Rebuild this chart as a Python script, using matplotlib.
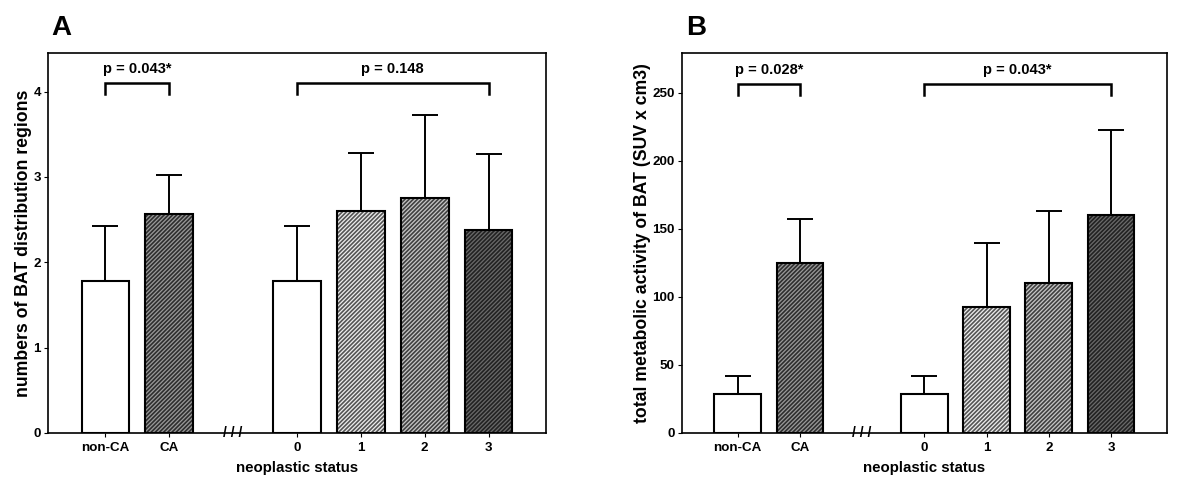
import matplotlib
matplotlib.use("Agg")
import matplotlib.pyplot as plt

plt.rcParams['font.family'] = ['Liberation Sans', 'DejaVu Sans']
plt.rcParams['font.weight'] = 'bold'
plt.rcParams['hatch.linewidth'] = 1.2

categories = ['non-CA', 'CA', '0', '1', '2', '3']
positions = [0, 1, 3, 4, 5, 6]
bar_colors = ['#ffffff', '#9a9a9a', '#ffffff', '#eeeeee', '#c6c6c6', '#6a6a6a']
hatch_colors = ['#000000', '#2e2e2e', '#000000', '#555555', '#404040', '#222222']
bar_hatch = ['', '////////', '', '////////', '////////', '////////']

a_mean = [1.78, 2.57, 1.78, 2.60, 2.75, 2.38]
a_err = [0.64, 0.45, 0.64, 0.68, 0.98, 0.89]
b_mean = [28.6, 125.0, 28.6, 92.4, 110.5, 160.0]
b_err = [13.4, 32.0, 13.4, 47.4, 52.7, 62.9]

a_ticks = [0, 1, 2, 3, 4]
b_ticks = [0, 50, 100, 150, 200, 250]

a_p = ['p = 0.043*', 'p = 0.148']
b_p = ['p = 0.028*', 'p = 0.043*']

fig = plt.figure(figsize=(12, 4.82), dpi=100)
axA = fig.add_axes([0.040, 0.1017, 0.415, 0.788])
axB = fig.add_axes([0.568, 0.1017, 0.4045, 0.788])


def panel(ax, means, errs, yticks, ylim, ylabel, ptexts, blo, bhi, ptxt, letter, letter_x):
    for x, m, e, c, hc, h in zip(positions, means, errs, bar_colors, hatch_colors, bar_hatch):
        ax.bar(x, m, width=0.75, color=c, edgecolor=hc, linewidth=0,
               hatch=h, zorder=2)
        ax.bar(x, m, width=0.75, fill=False, edgecolor='black', linewidth=1.5,
               zorder=3)
        ax.errorbar(x, m, yerr=[[0], [e]], fmt='none', ecolor='black',
                    elinewidth=1.4, capsize=9.5, capthick=1.4, zorder=1)
    ax.set_xlim(-0.9, 6.9)
    ax.set_ylim(*ylim)
    ax.set_yticks(yticks)
    ax.set_xticks(positions)
    ax.set_xticklabels(categories)
    ax.tick_params(axis='both', labelsize=9.6, length=3, width=0.8, direction='out')
    ax.tick_params(axis='y', pad=2)
    for lbl in ax.get_xticklabels() + ax.get_yticklabels():
        lbl.set_fontweight('bold')
    for s in ax.spines.values():
        s.set_linewidth(1.2)
    ax.set_ylabel(ylabel, fontsize=12.7, fontweight='bold', labelpad=1)
    ax.set_xlabel('neoplastic status', fontsize=10.8, fontweight='bold', labelpad=5)
    ax.text(2, 0, '/ / /', ha='center', va='center', fontsize=10, fontweight='bold',
            clip_on=False, zorder=5)
    # brackets
    for (x0, x1), t in zip([(0, 1), (3, 6)], ptexts):
        ax.plot([x0, x0, x1, x1], [blo, bhi, bhi, blo], color='black', lw=1.8,
                solid_joinstyle='miter')
        ax.text((x0 + x1) / 2, ptxt, t, ha='center', va='center', fontsize=10.5,
                fontweight='bold')
    fig.text(letter_x, 0.942, letter, fontsize=20, fontweight='bold', ha='left', va='center')


panel(axA, a_mean, a_err, a_ticks, (0, 4.45), 'numbers of BAT distribution regions',
      a_p, 3.97, 4.10, 4.27, 'A', 0.043)
panel(axB, b_mean, b_err, b_ticks, (0, 279), 'total metabolic activity of BAT (SUV x cm3)',
      b_p, 248, 256, 266.5, 'B', 0.572)

fig.savefig('out.png', dpi=100)
